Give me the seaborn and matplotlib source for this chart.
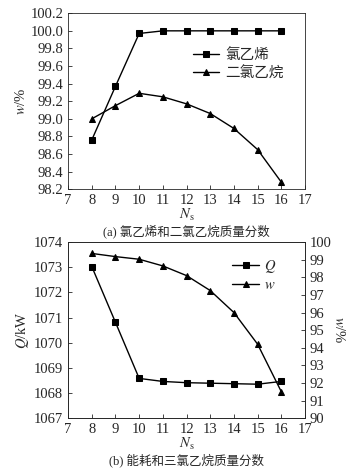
import numpy as np
import pandas as pd
import matplotlib
matplotlib.use("Agg")
import matplotlib.pyplot as plt
import seaborn as sns

# stage numbers
ns = [8, 9, 10, 11, 12, 13, 14, 15, 16]

# (a) mass fractions, %
w_vcm = [98.76, 99.37, 99.97, 100.0, 100.0, 100.0, 100.0, 100.0, 100.0]
w_edc = [99.0, 99.15, 99.29, 99.25, 99.17, 99.06, 98.89, 98.65, 98.28]

# (b) energy use, kW and mass fraction, %
q_kw = [1073.03, 1070.81, 1068.58, 1068.46, 1068.41, 1068.39, 1068.37, 1068.35, 1068.46]
w_tce = [99.36, 99.18, 99.03, 98.65, 98.1, 97.25, 96.0, 94.2, 91.5]

sns.set_style("ticks")
plt.rcParams['font.family'] = ['Liberation Serif', 'Noto Sans CJK SC']
plt.rcParams['mathtext.fontset'] = 'stix'
plt.rcParams['axes.unicode_minus'] = False
plt.rcParams['xtick.direction'] = 'in'
plt.rcParams['ytick.direction'] = 'in'
fs = 10.5

fig = plt.figure(figsize=(3.51, 4.73), dpi=100)
ax1 = fig.add_axes([0.194, 0.600, 0.675, 0.372])
ax2 = fig.add_axes([0.194, 0.116, 0.675, 0.372])

df_a = pd.DataFrame({'Ns': ns, 'vcm': w_vcm, 'edc': w_edc})
sns.lineplot(data=df_a, x='Ns', y='vcm', ax=ax1, color='black', lw=1,
             marker='s', markersize=4, markeredgecolor='black', label='氯乙烯')
sns.lineplot(data=df_a, x='Ns', y='edc', ax=ax1, color='black', lw=1,
             marker='^', markersize=5, markeredgecolor='black', label='二氯乙烷')
ax1.set_xlim(7, 17)
ax1.set_ylim(98.2, 100.2)
ax1.set_xticks(range(7, 18))
ax1.set_yticks(np.arange(98.2, 100.21, 0.2))
ax1.set_yticklabels([f"{v:.1f}" for v in np.arange(98.2, 100.21, 0.2)])
ax1.set_xlabel(r'$N_{\rm s}$', fontsize=fs, labelpad=0)
ax1.set_ylabel(r'$w$/%', fontsize=fs, labelpad=2)
ax1.tick_params(labelsize=fs, length=3, width=0.6)
ax1.legend(loc='upper right', bbox_to_anchor=(0.935, 0.835), frameon=False,
           fontsize=fs, handlelength=1.8, handletextpad=0.4,
           borderaxespad=0, labelspacing=0.3)
ax1.text(0.5, -0.24, '(a) 氯乙烯和二氯乙烷质量分数', transform=ax1.transAxes,
         ha='center', va='center', fontsize=9)

df_b = pd.DataFrame({'Ns': ns, 'Q': q_kw, 'w': w_tce})
sns.lineplot(data=df_b, x='Ns', y='Q', ax=ax2, color='black', lw=1,
             marker='s', markersize=4, markeredgecolor='black', legend=False)
ax3 = ax2.twinx()
sns.lineplot(data=df_b, x='Ns', y='w', ax=ax3, color='black', lw=1,
             marker='^', markersize=5, markeredgecolor='black', legend=False)
ax2.set_xlim(7, 17)
ax2.set_ylim(1067, 1074)
ax2.set_xticks(range(7, 18))
ax2.set_yticks(range(1067, 1075))
ax3.set_ylim(90, 100)
ax3.set_yticks(range(90, 101))
ax2.set_xlabel(r'$N_{\rm s}$', fontsize=fs, labelpad=0)
ax2.set_ylabel(r'$Q$/kW', fontsize=fs, labelpad=2)
ax3.set_ylabel(r'$w$/%', fontsize=fs, rotation=270, labelpad=10)
for a in (ax2, ax3):
    a.tick_params(labelsize=fs, length=3, width=0.6)
handles = [ax2.lines[0], ax3.lines[0]]
ax3.legend(handles, [r'$Q$', r'$w$'], loc='upper right', bbox_to_anchor=(0.905, 0.945),
           frameon=False, fontsize=fs, handlelength=1.8, handletextpad=0.4,
           borderaxespad=0, labelspacing=0.3)
ax2.text(0.5, -0.24, '(b) 能耗和三氯乙烷质量分数', transform=ax2.transAxes,
         ha='center', va='center', fontsize=9)

for a in (ax1, ax2, ax3):
    for s in a.spines.values():
        s.set_linewidth(0.6)

fig.savefig('out.png', dpi=100)
